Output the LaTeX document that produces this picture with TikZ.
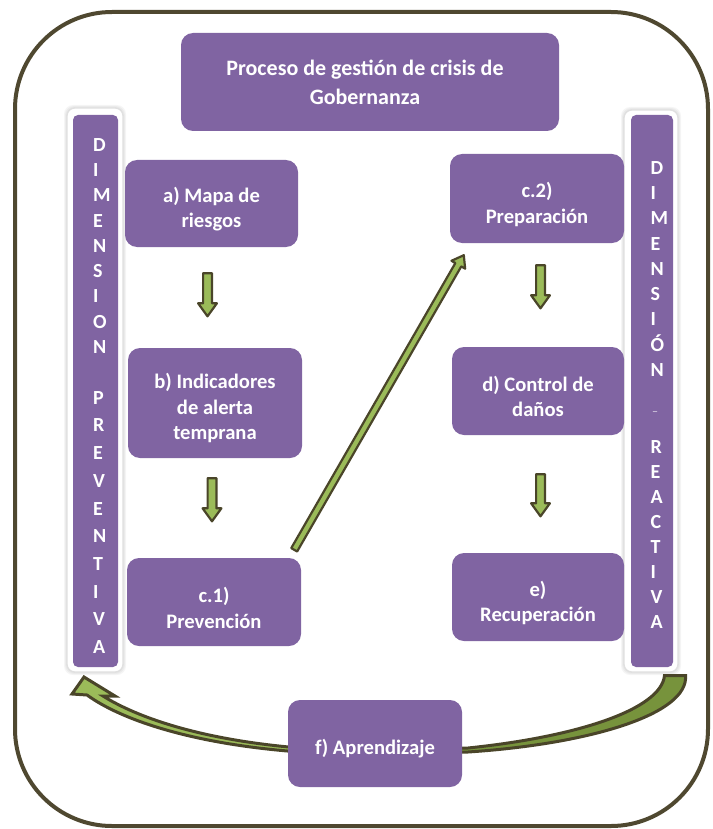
\documentclass[tikz,border=0pt]{standalone}
\usepackage{fontspec}
\setmainfont{Carlito}
\usetikzlibrary{calc}
\definecolor{boxpurple}{HTML}{8064A2}
\definecolor{oliveline}{HTML}{4A4529}
\definecolor{lightgreen}{HTML}{9BBB59}
\definecolor{darkgreen}{HTML}{77933C}
\definecolor{borderline}{HTML}{4F4830}
\newcommand{\bkarrow}[6]{%
  \coordinate (#1h) at ($(#3)!#6!(#2)$);
  \filldraw[blockarr] ($(#2)!#4!90:(#3)$) -- ($(#1h)!#4!90:(#3)$) -- ($(#1h)!#5!90:(#3)$) -- (#3)
    -- ($(#1h)!#5!-90:(#3)$) -- ($(#1h)!#4!-90:(#3)$) -- ($(#2)!#4!-90:(#3)$) -- cycle;
}
\begin{document}
\begin{tikzpicture}[x=1pt,y=-1pt,
  box/.style={fill=boxpurple, draw=none, rounded corners=12pt, inner sep=0pt},
  boxtext/.style={text=white, align=center, inner sep=0pt, font=\bfseries\fontsize{20.6}{25.5}\selectfont},
  barframe/.style={fill=white, draw=black!12, line width=1.2pt, rounded corners=8pt, inner sep=0pt},
  barinner/.style={fill=boxpurple, draw=none, rounded corners=5pt, inner sep=0pt},
  barletter/.style={text=white, inner sep=0pt, anchor=west, text height=12.5pt, text depth=0pt,
    font=\bfseries\fontsize{20}{22}\selectfont},
  blockarr/.style={fill=lightgreen, draw=oliveline, line width=2.2pt, line join=round},
  curvarr/.style={draw=oliveline, line width=3pt, line join=miter}]
\useasboundingbox (0,0) rectangle (712,829);
% outer frame
\draw[borderline, line width=4pt, rounded corners=97pt] (15,12) rectangle (708,826);
% bars
\foreach \k in {1,2,3}{
  \fill[black, opacity=0.04, rounded corners=9pt] (67-\k,108-\k) rectangle (123+\k,672+\k);
  \fill[black, opacity=0.04, rounded corners=9pt] (624-\k,110-\k) rectangle (678+\k,672+\k);
}
\node[barframe, minimum width=56pt, minimum height=564pt] (lframe) at (95,390) {};
\node[barinner, minimum width=45pt, minimum height=552pt] (lbar) at (95.5,391) {};
\node[barframe, minimum width=54pt, minimum height=562pt] (rframe) at (651,391) {};
\node[barinner, minimum width=42pt, minimum height=552pt] (rbar) at (652,391) {};
\foreach \ch [count=\i] in {D,I,M,E,N,S,I,O,N}
  \node[barletter] (la\i) at (93,{145+25.25*(\i-1)}) {\ch};
\foreach \ch [count=\i] in {P,R,E,V,E,N,T,I,V,A}
  \node[barletter] (lb\i) at (93,{398+27.7*(\i-1)}) {\ch};
\foreach \ch [count=\i] in {D,I,M,E,N,S,I,Ó,N}
  \node[barletter] (ra\i) at (650.5,{168+25.25*(\i-1)}) {\ch};
\node[barletter, text=white!75!boxpurple, font=\fontsize{12}{14}\selectfont] (rdash) at (652,409) {–};
\foreach \ch [count=\i] in {R,E,A,C,T,I,V,A}
  \node[barletter] (rb\i) at (650.5,{447+25.1*(\i-1)}) {\ch};
% curved arrows (behind f box)
\filldraw[curvarr, fill=lightgreen] (84,677) -- (72,694) -- (87,695)
  .. controls (120,719) and (190,744) .. (300,752) -- (300,748)
  .. controls (190,739) and (130,713) .. (103,696) -- (115,696) -- cycle;
\filldraw[curvarr, fill=darkgreen] (455,752) -- (468,752)
  .. controls (590,744) and (689,714) .. (685.5,675.5) -- (664.5,675.5)
  .. controls (661,710) and (575,737) .. (468,748) -- (455,748) -- cycle;
% boxes
\node[box, minimum width=378pt, minimum height=98pt] (title) at (370,82) {};
\node[boxtext, font=\bfseries\fontsize{22}{29}\selectfont] (titleT) at ($(title.center)+(-5,0)$)
  {Proceso de gestión de crisis de\\Gobernanza};
\node[box, minimum width=173pt, minimum height=87pt] (a) at (211.5,203.5) {};
\node[boxtext] (aT) at ($(a.center)+(0,5.5)$) {a) Mapa de\\riesgos};
\node[box, minimum width=174pt, minimum height=110pt] (b) at (215,403) {};
\node[boxtext] (bT) at ($(b.center)+(0,5)$) {b) Indicadores\\de alerta\\temprana};
\node[box, minimum width=174pt, minimum height=88pt] (c1) at (214,602) {};
\node[boxtext] (c1T) at ($(c1.center)+(0,6)$) {c.1)\\Prevención};
\node[box, minimum width=174pt, minimum height=89pt] (c2) at (537,198.5) {};
\node[boxtext] (c2T) at ($(c2.center)+(0,6)$) {c.2)\\Preparación};
\node[box, minimum width=172pt, minimum height=88pt] (d) at (538,391) {};
\node[boxtext] (dT) at ($(d.center)+(0,5.5)$) {d) Control de\\daños};
\node[box, minimum width=172pt, minimum height=88pt] (e) at (538,597) {};
\node[boxtext] (eT) at ($(e.center)+(0,6)$) {e)\\Recuperación};
\node[box, minimum width=174pt, minimum height=87pt] (f) at (375,743.5) {};
\node[boxtext] (fT) at ($(f.center)+(0,5)$) {f) Aprendizaje};
% block arrows
\coordinate (ar1s) at ($(a.south)+(-4,26)$);
\coordinate (ar1e) at ($(b.north)+(-7.5,-31.5)$);
\coordinate (ar2s) at ($(b.south)+(-3,20)$);
\coordinate (ar2e) at ($(c1.north)+(-2,-36.5)$);
\coordinate (ar3s) at ($(c2.south)+(3.5,22)$);
\coordinate (ar3e) at ($(d.north)+(2.5,-38.5)$);
\coordinate (ar4s) at ($(d.south)+(2.5,39)$);
\coordinate (ar4e) at ($(e.north)+(2.5,-36.5)$);
\coordinate (dgs) at ($(c1.north east)+(-7,-8)$);
\coordinate (dge) at ($(c2.south west)+(14,12)$);
\bkarrow{ar1}{ar1s}{ar1e}{4.4pt}{9.4pt}{13pt}
\bkarrow{ar2}{ar2s}{ar2e}{4.4pt}{9.4pt}{13pt}
\bkarrow{ar3}{ar3s}{ar3e}{4.4pt}{9.4pt}{13pt}
\bkarrow{ar4}{ar4s}{ar4e}{4.4pt}{9.4pt}{13pt}
\bkarrow{dg}{dgs}{dge}{3.4pt}{7.9pt}{11pt}
\end{tikzpicture}
\end{document}
